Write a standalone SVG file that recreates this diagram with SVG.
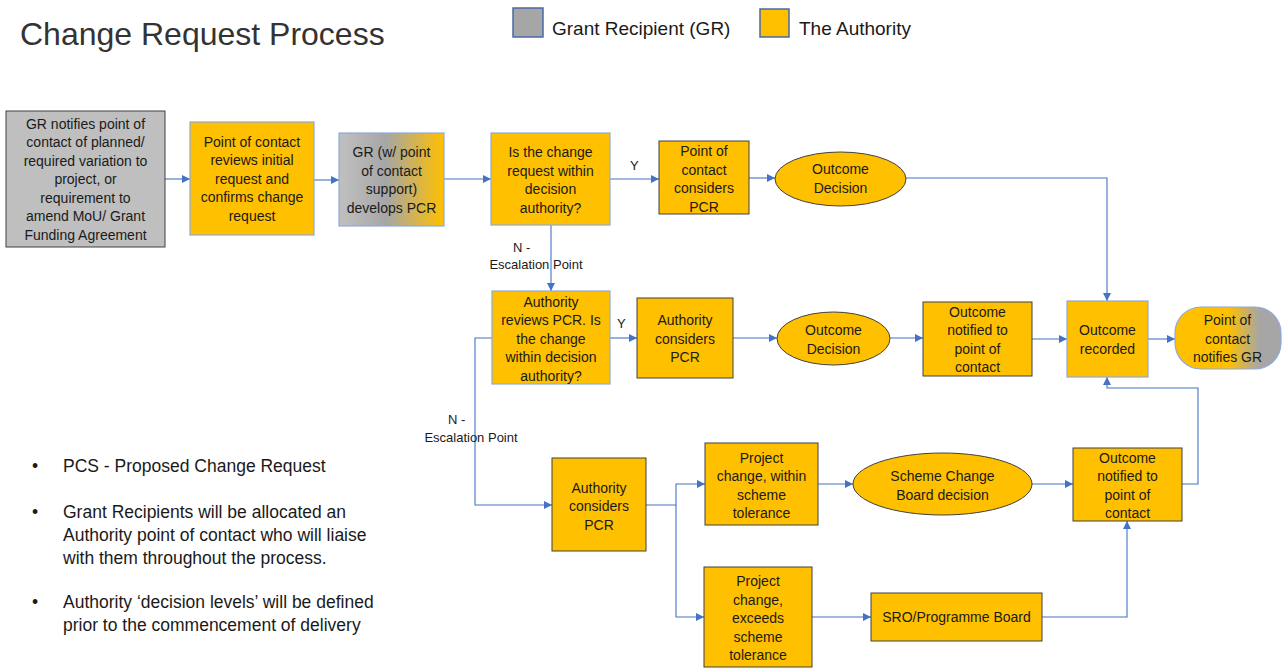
<svg xmlns="http://www.w3.org/2000/svg" width="1282" height="668" viewBox="0 0 1282 668">
<style>
text{font-family:"Liberation Sans",Arial,sans-serif;fill:#1a1a1a}
.t{font-size:14px;text-anchor:middle}
.lbl{font-size:13px}
.auth{fill:#ffc000}
.dk{stroke:#404040;stroke-width:1}
.lt{stroke:#8eaadb;stroke-width:1.2}
.c{fill:none;stroke:#4472c4;stroke-width:1.1}
.b{font-size:17.5px}
</style>
<defs>
<marker id="ah" viewBox="0 0 10 10" refX="10" refY="5" markerWidth="9" markerHeight="8" orient="auto" markerUnits="userSpaceOnUse"><path d="M0,0 L10,5 L0,10 z" fill="#4472c4"/></marker>
<linearGradient id="g1" x1="0" y1="0" x2="1" y2="0"><stop offset="0" stop-color="#c0c0c0"/><stop offset="0.45" stop-color="#a6a6a6"/><stop offset="1" stop-color="#ffc000"/></linearGradient>
<linearGradient id="g2" x1="0" y1="0" x2="1" y2="0"><stop offset="0" stop-color="#ffc000"/><stop offset="0.5" stop-color="#ffc000"/><stop offset="0.8" stop-color="#a6a6a6"/><stop offset="1" stop-color="#a6a6a6"/></linearGradient>
</defs>

<text x="20" y="45" style="font-size:32px;fill:#333333">Change Request Process</text>
<g id="legend">
<rect x="513" y="8" width="30" height="29" fill="#a6a6a6" stroke="#4a6aa8" stroke-width="1.5"/>
<text x="552" y="35" style="font-size:19px">Grant Recipient (GR)</text>
<rect x="760" y="9" width="29" height="28" fill="#ffc000" stroke="#4a6aa8" stroke-width="1.5"/>
<text x="799" y="35" style="font-size:19px">The Authority</text>
</g>

<g id="connectors">
<path class="c" d="M165,179 H190" marker-end="url(#ah)"/>
<path class="c" d="M314,180 H339" marker-end="url(#ah)"/>
<path class="c" d="M444,179 H491" marker-end="url(#ah)"/>
<path class="c" d="M610,179 H659" marker-end="url(#ah)"/>
<path class="c" d="M749,178 H775" marker-end="url(#ah)"/>
<path class="c" d="M906,178 H1107 V301" marker-end="url(#ah)"/>
<path class="c" d="M551,225 V291" marker-end="url(#ah)"/>
<path class="c" d="M610,338 H637" marker-end="url(#ah)"/>
<path class="c" d="M733,338 H777" marker-end="url(#ah)"/>
<path class="c" d="M890,338 H923" marker-end="url(#ah)"/>
<path class="c" d="M1032,339 H1067" marker-end="url(#ah)"/>
<path class="c" d="M1148,339 H1175" marker-end="url(#ah)"/>
<path class="c" d="M492,338 H475 V505 H552" marker-end="url(#ah)"/>
<path class="c" d="M646,505 H676 V484 H705" marker-end="url(#ah)"/>
<path class="c" d="M676,505 V617 H704" marker-end="url(#ah)"/>
<path class="c" d="M818,484 H853" marker-end="url(#ah)"/>
<path class="c" d="M1032,484 H1073" marker-end="url(#ah)"/>
<path class="c" d="M1182,484 H1198 V388 H1107 V377" marker-end="url(#ah)"/>
<path class="c" d="M812,617 H871" marker-end="url(#ah)"/>
<path class="c" d="M1042,617 H1127 V521" marker-end="url(#ah)"/>
<text class="lbl" x="630" y="170">Y</text>
<text class="lbl" x="617" y="328">Y</text>
<text class="lbl" x="513" y="252">N -</text>
<text class="lbl" x="536" y="269" text-anchor="middle">Escalation Point</text>
<text class="lbl" x="448" y="424">N -</text>
<text class="lbl" x="471" y="442" text-anchor="middle">Escalation Point</text>
</g>

<g id="n1">
<rect x="6" y="111" width="159" height="136" fill="#bfbfbf" class="dk"/>
<text class="t"><tspan x="85.5" y="128.5">GR notifies point of</tspan><tspan x="85.5" y="147">contact of planned/</tspan><tspan x="85.5" y="165.5">required variation to</tspan><tspan x="85.5" y="184">project, or</tspan><tspan x="85.5" y="202.5">requirement to</tspan><tspan x="85.5" y="221">amend MoU/ Grant</tspan><tspan x="85.5" y="239.5">Funding Agreement</tspan></text>
</g>
<g id="n2">
<rect x="190" y="122" width="124" height="113" class="auth lt"/>
<text class="t"><tspan x="252" y="146.5">Point of contact</tspan><tspan x="252" y="165">reviews initial</tspan><tspan x="252" y="183.5">request and</tspan><tspan x="252" y="202">confirms change</tspan><tspan x="252" y="220.5">request</tspan></text>
</g>
<g id="n3">
<rect x="339" y="133" width="105" height="93" fill="url(#g1)" class="lt"/>
<text class="t"><tspan x="391.5" y="157">GR (w/ point</tspan><tspan x="391.5" y="175.5">of contact</tspan><tspan x="391.5" y="194">support)</tspan><tspan x="391.5" y="212.5">develops PCR</tspan></text>
</g>
<g id="n4">
<rect x="491" y="133" width="119" height="92" class="auth lt"/>
<text class="t"><tspan x="550.5" y="157">Is the change</tspan><tspan x="550.5" y="175.5">request within</tspan><tspan x="550.5" y="194">decision</tspan><tspan x="550.5" y="212.5">authority?</tspan></text>
</g>
<g id="n5">
<rect x="659" y="141" width="90" height="73" class="auth dk"/>
<text class="t"><tspan x="704" y="156">Point of</tspan><tspan x="704" y="174.5">contact</tspan><tspan x="704" y="193">considers</tspan><tspan x="704" y="211.5">PCR</tspan></text>
</g>
<g id="n6">
<ellipse cx="840.5" cy="179" rx="65.5" ry="27" class="auth dk"/>
<text class="t"><tspan x="840.5" y="174">Outcome</tspan><tspan x="840.5" y="193">Decision</tspan></text>
</g>
<g id="n7">
<rect x="492" y="291" width="118" height="93" class="auth lt"/>
<text class="t"><tspan x="551" y="306.5">Authority</tspan><tspan x="551" y="325">reviews PCR. Is</tspan><tspan x="551" y="343.5">the change</tspan><tspan x="551" y="362">within decision</tspan><tspan x="551" y="380.5">authority?</tspan></text>
</g>
<g id="n8">
<rect x="637" y="298" width="96" height="80" class="auth dk"/>
<text class="t"><tspan x="685" y="325">Authority</tspan><tspan x="685" y="343.5">considers</tspan><tspan x="685" y="362">PCR</tspan></text>
</g>
<g id="n9">
<ellipse cx="833.5" cy="338.5" rx="56.5" ry="26.5" class="auth dk"/>
<text class="t"><tspan x="833.5" y="335">Outcome</tspan><tspan x="833.5" y="353.5">Decision</tspan></text>
</g>
<g id="n10">
<rect x="923" y="302" width="109" height="74" class="auth dk"/>
<text class="t"><tspan x="977.5" y="316.5">Outcome</tspan><tspan x="977.5" y="335">notified to</tspan><tspan x="977.5" y="353.5">point of</tspan><tspan x="977.5" y="372">contact</tspan></text>
</g>
<g id="n11">
<rect x="1067" y="301" width="81" height="76" class="auth lt"/>
<text class="t"><tspan x="1107.5" y="335">Outcome</tspan><tspan x="1107.5" y="353.5">recorded</tspan></text>
</g>
<g id="n12">
<rect x="1175" y="307" width="106" height="62" rx="26" ry="26" fill="url(#g2)" class="lt"/>
<text class="t"><tspan x="1227.5" y="325">Point of</tspan><tspan x="1227.5" y="343.5">contact</tspan><tspan x="1227.5" y="362">notifies GR</tspan></text>
</g>
<g id="n13">
<rect x="552" y="458" width="94" height="93" class="auth dk"/>
<text class="t"><tspan x="599" y="492.5">Authority</tspan><tspan x="599" y="511">considers</tspan><tspan x="599" y="529.5">PCR</tspan></text>
</g>
<g id="n14">
<rect x="705" y="443" width="113" height="82" class="auth dk"/>
<text class="t"><tspan x="761.5" y="462.5">Project</tspan><tspan x="761.5" y="481">change, within</tspan><tspan x="761.5" y="499.5">scheme</tspan><tspan x="761.5" y="518">tolerance</tspan></text>
</g>
<g id="n15">
<ellipse cx="942.5" cy="484" rx="89.5" ry="31" class="auth dk"/>
<text class="t"><tspan x="942.5" y="481">Scheme Change</tspan><tspan x="942.5" y="499.5">Board decision</tspan></text>
</g>
<g id="n16">
<rect x="704" y="567" width="108" height="100" class="auth dk"/>
<text class="t"><tspan x="758" y="586">Project</tspan><tspan x="758" y="604.5">change,</tspan><tspan x="758" y="623">exceeds</tspan><tspan x="758" y="641.5">scheme</tspan><tspan x="758" y="660">tolerance</tspan></text>
</g>
<g id="n17">
<rect x="871" y="593" width="171" height="48" class="auth dk"/>
<text class="t" x="956.5" y="622">SRO/Programme Board</text>
</g>
<g id="n18">
<rect x="1073" y="448" width="109" height="73" class="auth dk"/>
<text class="t"><tspan x="1127.5" y="462.5">Outcome</tspan><tspan x="1127.5" y="481">notified to</tspan><tspan x="1127.5" y="499.5">point of</tspan><tspan x="1127.5" y="518">contact</tspan></text>
</g>

<g id="notes" class="b">
<text class="b" x="32" y="472">•</text>
<text class="b" x="63" y="472">PCS - Proposed Change Request</text>
<text class="b" x="32" y="518">•</text>
<text class="b"><tspan x="63" y="518">Grant Recipients will be allocated an</tspan><tspan x="63" y="541">Authority point of contact who will liaise</tspan><tspan x="63" y="564">with them throughout the process.</tspan></text>
<text class="b" x="32" y="608">•</text>
<text class="b"><tspan x="63" y="608">Authority ‘decision levels’ will be defined</tspan><tspan x="63" y="631">prior to the commencement of delivery</tspan></text>
</g>
</svg>
